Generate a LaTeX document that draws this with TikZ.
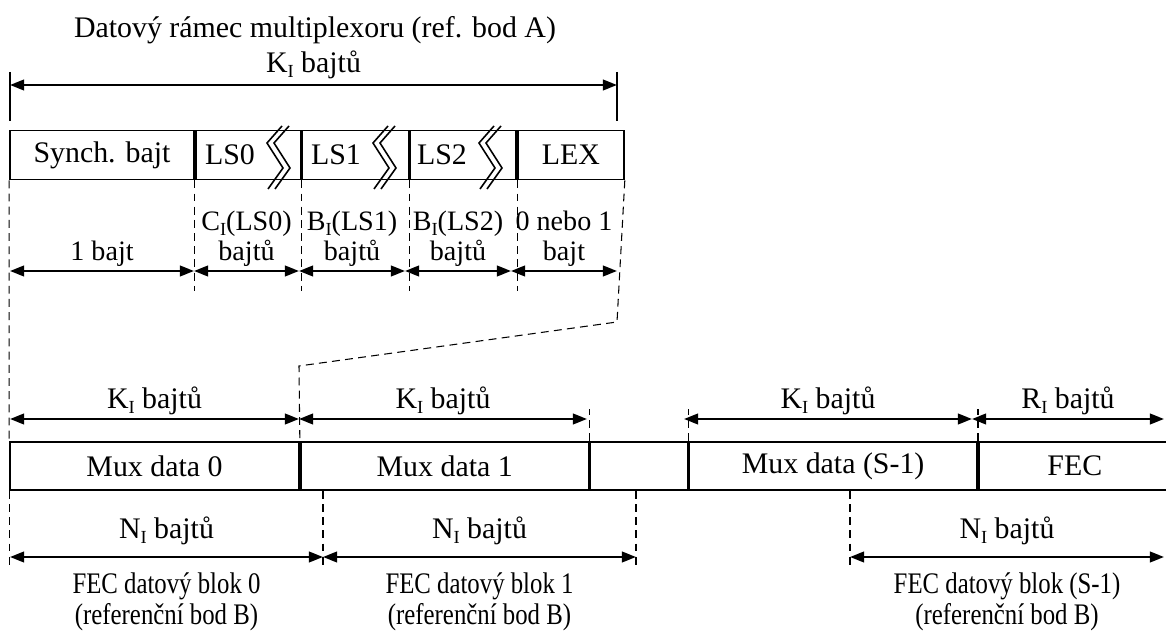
\documentclass[tikz,border=0pt]{standalone}
\usepackage{fontspec}
\setmainfont{Liberation Serif}
\usepackage{graphicx}
\usetikzlibrary{arrows.meta,positioning}

\tikzset{
  cell/.style={draw, line width=1pt, inner sep=0pt, minimum height=0.98cm},
  dimline/.style={<->, line width=1.3pt},
  guide/.style={line width=0.6pt, dash pattern=on 4.5pt off 3pt},
  tick/.style={line width=1pt},
  brk/.style={line width=0.9pt},
  tag/.style={inner sep=0pt, align=center},
  fieldtag/.style={tag, font=\fontsize{16}{17}\selectfont}
}
\newcommand{\narrow}[1]{\scalebox{0.83}[1]{#1}}
\newcommand{\idx}[1]{\raisebox{-0.35ex}{\fontsize{10.5}{10.5}\selectfont #1}}

\begin{document}
\begin{tikzpicture}[x=0.02cm, y=-0.02cm, >={Triangle[length=8pt,width=6pt]},
    font=\fontsize{17}{17.5}\selectfont]
    \useasboundingbox (0,0) rectangle (1166,644);

    % multiplexer frame
    \node[tag] (title) at (315,30) {Datový rámec multiplexoru (ref. bod A)};
    \node[cell, minimum width=3.68cm] (sync) at (102,155) {Synch. bajt};
    \node[cell, minimum width=2.10cm, right=0pt of sync] (ls0) {};
    \node[cell, minimum width=2.12cm, right=0pt of ls0] (ls1) {};
    \node[cell, minimum width=2.12cm, right=0pt of ls1] (ls2) {};
    \node[cell, minimum width=2.12cm, right=0pt of ls2] (lex) {LEX};
    \node[tag] (ls0 txt) at (230,155) {LS0};
    \node[tag] (ls1 txt) at (336,155) {LS1};
    \node[tag] (ls2 txt) at (442,155) {LS2};

    % break marks
    \foreach \d in {299,405,511} {
      \draw[brk] (\d-17,126) -- (\d-32,143) -- (\d-16,168) -- (\d-31,189);
      \draw[brk] (\d-10,126) -- (\d-25,143) -- (\d-9,168) -- (\d-24,189);
    }

    % whole frame length
    \coordinate (kl) at (10,85);
    \coordinate (kr) at (617,85);
    \draw[tick] (kl) ++(0,-13) -- ++(0,49);
    \draw[tick] (kr) ++(0,-13) -- ++(0,49);
    \draw[dimline] (kl) -- node[tag, above=3pt] (k top) {K\idx{I} bajtů} (kr);

    % field lengths
    \coordinate (a0) at (10,271);
    \coordinate (a1) at (194,271);
    \coordinate (a2) at (299,271);
    \coordinate (a3) at (405,271);
    \coordinate (a4) at (511,271);
    \coordinate (a5) at (617,271);
    \draw[guide] (ls0.south west) -- ++(0,111);
    \draw[guide] (ls1.south west) -- ++(0,111);
    \draw[guide] (ls2.south west) -- ++(0,111);
    \draw[guide] (lex.south west) -- ++(0,111);
    \draw[dimline] (a0) -- node[fieldtag, above=2pt] (l sync) {1 bajt} (a1);
    \draw[dimline] (a1) -- node[fieldtag, above=2pt] (l ls0) {C\idx{I}(LS0)\\bajtů} (a2);
    \draw[dimline] (a2) -- node[fieldtag, above=2pt] (l ls1) {B\idx{I}(LS1)\\bajtů} (a3);
    \draw[dimline] (a3) -- node[fieldtag, above=2pt] (l ls2) {B\idx{I}(LS2)\\bajtů} (a4);
    \draw[dimline] (a4) -- node[fieldtag, above=2pt] (l lex) {0 nebo 1\\bajt} (a5);

    % FEC frame
    \node[cell, minimum width=5.78cm, minimum height=0.96cm] (mux0) at (154.5,466) {Mux data 0};
    \node[cell, minimum width=5.76cm, minimum height=0.96cm, right=0pt of mux0] (mux1) {Mux data 1};
    \node[cell, minimum width=1.94cm, minimum height=0.96cm, right=0pt of mux1] (gap) {};
    \node[cell, minimum width=5.76cm, minimum height=0.96cm, right=0pt of gap] (muxs) {Mux data (S-1)};
    \node[cell, minimum width=3.84cm, minimum height=0.96cm, right=0pt of muxs] (fec) {FEC};

    % projection of the frame
    \coordinate (bend1) at (617,322);
    \coordinate (bend2) at (299,366);
    \draw[guide] (sync.south west) -- (mux0.north west);
    \draw[guide] (lex.south east) -- (bend1) -- (bend2) -- (mux1.north west);

    % mux data lengths
    \coordinate (b0) at (10,419);
    \coordinate (b1) at (299,419);
    \coordinate (b2) at (587,419);
    \coordinate (b3) at (684,419);
    \coordinate (b4) at (972,419);
    \coordinate (b5) at (1164,419);
    \draw[guide] (mux1.north east) -- ++(0,-32);
    \draw[guide] (muxs.north west) -- ++(0,-32);
    \draw[guide] (fec.north west) -- ++(0,-32);
    \draw[guide] (fec.north east) -- ++(0,-32);
    \draw[dimline] (b0) -- node[tag, above=1.5pt] (k mux0) {K\idx{I} bajtů} (b1);
    \draw[dimline] (b1) -- node[tag, above=1.5pt] (k mux1) {K\idx{I} bajtů} (b2);
    \draw[dimline] (b3) -- node[tag, above=1.5pt] (k muxs) {K\idx{I} bajtů} (b4);
    \draw[dimline] (b4) -- node[tag, above=1.5pt] (r fec) {R\idx{I} bajtů} (b5);

    % FEC data blocks
    \coordinate (n0) at (10,557);
    \coordinate (n1) at (323,557);
    \coordinate (n2) at (636,557);
    \coordinate (n3) at (850,557);
    \coordinate (n4) at (1164,557);
    \draw[guide] (mux0.south west) -- ++(0,75);
    \draw[guide] (n1 |- mux0.south) -- ++(0,75);
    \draw[guide] (n2 |- mux1.south) -- ++(0,75);
    \draw[guide] (n3 |- muxs.south) -- ++(0,75);
    \draw[guide] (fec.south east) -- ++(0,75);
    \draw[dimline] (n0) -- node[tag, above=6pt] (n blk0) {N\idx{I} bajtů} (n1);
    \draw[dimline] (n1) -- node[tag, above=6pt] (n blk1) {N\idx{I} bajtů} (n2);
    \draw[dimline] (n3) -- node[tag, above=6pt] (n blks) {N\idx{I} bajtů} (n4);
    \node[tag, below=9pt of n blk0.south |- n0] (blk0) {\narrow{FEC datový blok 0}\\\narrow{(referenční bod B)}};
    \node[tag, below=9pt of n blk1.south |- n1] (blk1) {\narrow{FEC datový blok 1}\\\narrow{(referenční bod B)}};
    \node[tag, below=9pt of n blks.south |- n3] (blks) {\narrow{FEC datový blok (S-1)}\\\narrow{(referenční bod B)}};
\end{tikzpicture}
\end{document}
